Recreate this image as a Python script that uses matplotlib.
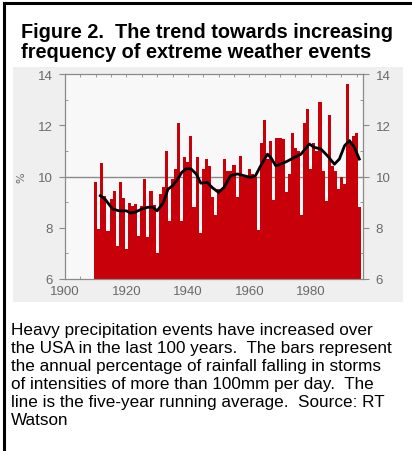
import matplotlib
matplotlib.use("Agg")
import matplotlib.pyplot as plt
from matplotlib.patches import Rectangle
from matplotlib.lines import Line2D
from matplotlib.ticker import MultipleLocator

W, H = 412, 452

# ---- data ----
years = list(range(1910, 1997))
pct = [9.77, 7.95, 10.52, 9.25, 7.88, 9.12, 9.44, 7.30, 9.77, 9.18,
       7.16, 8.96, 8.86, 8.92, 7.68, 8.86, 9.90, 7.62, 9.44, 8.90,
       7.03, 9.30, 9.60, 11.00, 8.27, 9.90, 10.30, 12.10, 8.27, 10.75,
       10.55, 11.60, 8.80, 10.75, 7.80, 10.30, 10.70, 10.40, 9.20, 8.50,
       9.50, 9.50, 10.70, 10.20, 10.20, 10.45, 9.20, 10.80, 10.00, 10.00,
       10.30, 10.10, 10.00, 7.90, 11.30, 12.20, 10.70, 11.40, 9.10, 11.50,
       11.50, 11.45, 9.40, 10.10, 11.70, 11.10, 11.00, 8.50, 12.10, 12.65,
       10.30, 11.30, 11.00, 12.90, 10.20, 9.05, 12.40, 10.40, 10.20, 9.50,
       10.00, 9.70, 13.60, 11.30, 11.60, 11.70, 8.80]

avg_years = [1911.5, 1913, 1915.5, 1917.6, 1920, 1921.4, 1923, 1925, 1927, 1928.5,
             1930, 1932, 1933.5, 1935, 1936.7, 1938, 1939.4, 1941, 1942.7, 1944.2,
             1946.3, 1947.9, 1950, 1951.7, 1953.9, 1956.1, 1958.3, 1960.4, 1962,
             1963.7, 1965.9, 1967, 1968.6, 1970.2, 1972.4, 1974.6, 1976.8, 1979.5,
             1981.1, 1983.3, 1985.5, 1987.7, 1989.3, 1991, 1992.6, 1994.2, 1995.8]
avg_pct = [9.25, 9.12, 8.73, 8.66, 8.66, 8.57, 8.62, 8.73, 8.80, 8.80,
           8.66, 8.98, 9.50, 9.64, 9.90, 10.16, 10.30, 10.30, 10.10, 9.74,
           9.77, 9.57, 9.38, 9.57, 10.03, 10.10, 10.03, 9.96, 10.03,
           10.42, 10.87, 10.74, 10.42, 10.48, 10.60, 10.74, 10.87, 11.27,
           11.14, 11.07, 10.80, 10.48, 10.68, 11.20, 11.40, 11.14, 10.68]

y_ticks = [6, 8, 10, 12, 14]
x_ticks = [1900, 1920, 1940, 1960, 1980]

title_lines = ["Figure 2.  The trend towards increasing",
               "frequency of extreme weather events"]
caption_lines = ["Heavy precipitation events have increased over",
                 "the USA in the last 100 years.  The bars represent",
                 "the annual percentage of rainfall falling in storms",
                 "of intensities of more than 100mm per day.  The",
                 "line is the five-year running average.  Source: RT",
                 "Watson"]

# ---- figure ----
fig = plt.figure(figsize=(W / 100, H / 100), dpi=100)
fig.patch.set_facecolor("white")


def fx(x):
    return x / W


def fy(y):
    return 1 - y / H


# outer frame (left and top edges)
fig.add_artist(Line2D([fx(4), fx(4)], [fy(4), fy(452)], color="black", lw=2.2))
fig.add_artist(Line2D([fx(4), fx(412)], [fy(4), fy(4)], color="black", lw=2.2))

# grey picture panel
fig.add_artist(Rectangle((fx(13), fy(303)), fx(403) - fx(13), fy(68) - fy(303),
                         transform=fig.transFigure, facecolor="#efefef",
                         edgecolor="none", zorder=0))

# title
for i, t in enumerate(title_lines):
    fig.text(fx(21), fy(38 + i * 20), t, fontsize=14.3, fontweight="bold",
             family="Liberation Sans", ha="left", va="baseline", color="black")

# caption
for i, t in enumerate(caption_lines):
    fig.text(fx(11), fy(335 + i * 18), t, fontsize=12.3,
             family="Liberation Sans", ha="left", va="baseline", color="black")

# axes
L, R, T, B = 65, 363, 75, 280
ax = fig.add_axes([fx(L), fy(B), fx(R) - fx(L), fy(T) - fy(B)])
ax.set_facecolor("#f8f8f8")
ax.bar(years, pct, width=1.0, color="#c8000a", edgecolor="none", zorder=2)
ax.axhline(10, color="#8a8a8a", lw=1.0, zorder=1)
ax.plot(avg_years, avg_pct, color="black", lw=2.0, zorder=3)
ax.set_xlim(1900, 1997)
ax.set_ylim(6, 14)

for s in ax.spines.values():
    s.set_color("#8a8a8a")
    s.set_linewidth(0.9)

ax.set_yticks(y_ticks)
ax.set_xticks(x_ticks)
ax.yaxis.set_minor_locator(MultipleLocator(1))
ax.xaxis.set_minor_locator(MultipleLocator(5))
ax.tick_params(axis="y", which="major", direction="out", length=4, width=0.8,
               color="#8a8a8a", labelcolor="#6a6a6a", labelsize=9.5, pad=5,
               left=True, right=True, labelleft=True, labelright=True)
ax.tick_params(axis="y", which="minor", direction="in", length=2, width=0.6,
               color="#8a8a8a", left=True, right=True)
ax.tick_params(axis="x", which="both", direction="in", length=2.5, width=0.6,
               color="#8a8a8a", labelcolor="#6a6a6a", labelsize=9.5, pad=4,
               top=True, bottom=True)
for lab in ax.get_xticklabels() + ax.get_yticklabels():
    lab.set_family("Liberation Sans")
ax.set_ylabel("%", fontsize=8, color="#6a6a6a", labelpad=8)

fig.savefig("out.png", dpi=100)
